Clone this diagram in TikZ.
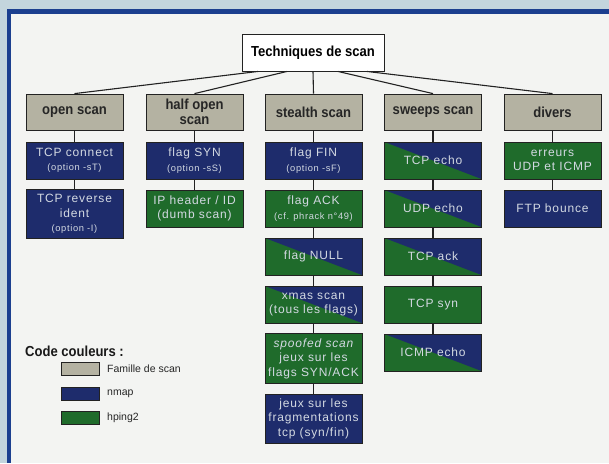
\documentclass[tikz,border=0pt]{standalone}
\usepackage{fontspec}
\setmainfont{Liberation Sans}
\newfontfamily\condb[FakeStretch=0.9]{Liberation Sans Bold}
\newfontfamily\boxf[LetterSpace=7]{Liberation Sans}
\definecolor{outerc}{HTML}{C3D5DD}
\definecolor{framec}{HTML}{1B3F8F}
\definecolor{innerc}{HTML}{F3F4F2}
\definecolor{famc}{HTML}{B4B2A2}
\definecolor{nmapc}{HTML}{1E2C6C}
\definecolor{hpc}{HTML}{1F6B2B}
\definecolor{bordc}{HTML}{222222}
\definecolor{txtc}{HTML}{D3D9E2}
\newcommand{\smtx}[1]{{\fontsize{9.3}{11}\selectfont #1}}
\tikzset{
  titlebox/.style={draw=bordc, line width=0.9pt, fill=white, minimum width=142pt, minimum height=37pt, inner sep=0pt, font=\condb\fontsize{14.5}{15}\selectfont, text=black},
  famille/.style={draw=bordc, line width=0.8pt, fill=famc, minimum width=97pt, minimum height=36pt, inner sep=0pt, align=center, font=\condb\fontsize{14.5}{15.5}\selectfont, text=black!85},
  nm/.style={draw=bordc, line width=0.8pt, fill=nmapc, minimum width=97pt, minimum height=37pt, inner sep=0pt, align=center, font=\boxf\fontsize{12}{14.5}\selectfont, text=txtc},
  hp/.style={nm, fill=hpc},
  mix/.style={nm, fill=hpc, path picture={\fill[nmapc] (path picture bounding box.north west) -- (path picture bounding box.north east) -- (path picture bounding box.south east) -- cycle;}},
  tall/.style={minimum height=49pt},
  link/.style={draw=bordc, line width=1.1pt},
  legbox/.style={draw=bordc, line width=0.8pt, minimum width=38pt, minimum height=13pt, inner sep=0pt},
  legtxt/.style={anchor=west, inner sep=0pt, font=\fontsize{10.5}{12}\selectfont, text=black!85},
}
\begin{document}
\begin{tikzpicture}[x=1pt,y=-1pt]
\useasboundingbox (0,0) rectangle (609,463);
\fill[outerc] (0,0) rectangle (609,463);
\fill[framec] (7,9) rectangle (609,463);
\fill[innerc] (11,13.5) rectangle (609,463);

% title
\node[titlebox] (title) at (313,52.5) {Techniques de scan};

% families
\node[famille] (c1) at (74.5,112) {open scan};
\node[famille] (c2) at (194.5,112) {half open\\scan};
\node[famille] (c3) at (313.5,112) {stealth scan};
\node[famille] (c4) at (433,112) {sweeps scan};
\node[famille] (c5) at (552.5,112) {divers};

% column 1
\node[nm] (a1) at (74.5,160.5) {TCP connect\\\smtx{(option -sT)}};
\node[nm,tall] (a2) at (74.5,214) {TCP reverse\\ident\\\smtx{(option -I)}};
% column 2
\node[nm] (b1) at (194.5,160.5) {flag SYN\\\smtx{(option -sS)}};
\node[hp] (b2) at (194.5,208.5) {IP header / ID\\(dumb scan)};
% column 3
\node[nm] (s1) at (313.5,160.5) {flag FIN\\\smtx{(option -sF)}};
\node[hp] (s2) at (313.5,208.5) {flag ACK\\\smtx{(cf. phrack n°49)}};
\node[mix] (s3) at (313.5,256.5) {flag NULL};
\node[mix] (s4) at (313.5,304.5) {xmas scan\\(tous les flags)};
\node[hp,tall,minimum height=50pt] (s5) at (313.5,358.5) {\itshape spoofed scan\\jeux sur les\\flags SYN/ACK};
\node[nm,tall] (s6) at (313.5,418.5) {jeux sur les\\fragmentations\\tcp (syn/fin)};
% column 4
\node[mix] (w1) at (433,160.5) {TCP echo};
\node[mix] (w2) at (433,208.5) {UDP echo};
\node[mix] (w3) at (433,256.5) {TCP ack};
\node[hp] (w4) at (433,304.5) {TCP syn};
\node[mix] (w5) at (433,352.5) {ICMP echo};
% column 5
\node[hp] (d1) at (552.5,160.5) {erreurs\\UDP et ICMP};
\node[nm] (d2) at (552.5,208.5) {FTP bounce};

% connectors from title
\draw[link] ([xshift=-55pt]title.south) -- (c1.north);
\draw[link] ([xshift=-26pt]title.south) -- (c2.north);
\draw[link] (title.south) -- (c3.north);
\draw[link] ([xshift=25pt]title.south) -- (c4.north);
\draw[link] ([xshift=54pt]title.south) -- (c5.north);

% column connectors
\draw[link] (c1) -- (a1); \draw[link] (a1) -- (a2);
\draw[link] (c2) -- (b1); \draw[link] (b1) -- (b2);
\draw[link] (c3) -- (s1); \draw[link] (s1) -- (s2); \draw[link] (s2) -- (s3);
\draw[link] (s3) -- (s4); \draw[link] (s4) -- (s5); \draw[link] (s5) -- (s6);
\draw[link] (c4) -- (w1); \draw[link] (w1) -- (w2); \draw[link] (w2) -- (w3);
\draw[link] (w3) -- (w4); \draw[link] (w4) -- (w5);
\draw[link] (c5) -- (d1); \draw[link] (d1) -- (d2);

% legend
\node[anchor=west, inner sep=0pt, font=\condb\fontsize{14.5}{15}\selectfont, text=black!90] (lt) at (25,351) {Code couleurs :};
\node[legbox, fill=famc] (l1) at (80,368.5) {};
\node[legbox, fill=nmapc] (l2) at (80,394) {};
\node[legbox, fill=hpc] (l3) at (80,418) {};
\node[legtxt] (t1) at (107,368.5) {Famille de scan};
\node[legtxt] (t2) at (107,394) {nmap};
\node[legtxt] (t3) at (107,418) {hping2};
\end{tikzpicture}
\end{document}
